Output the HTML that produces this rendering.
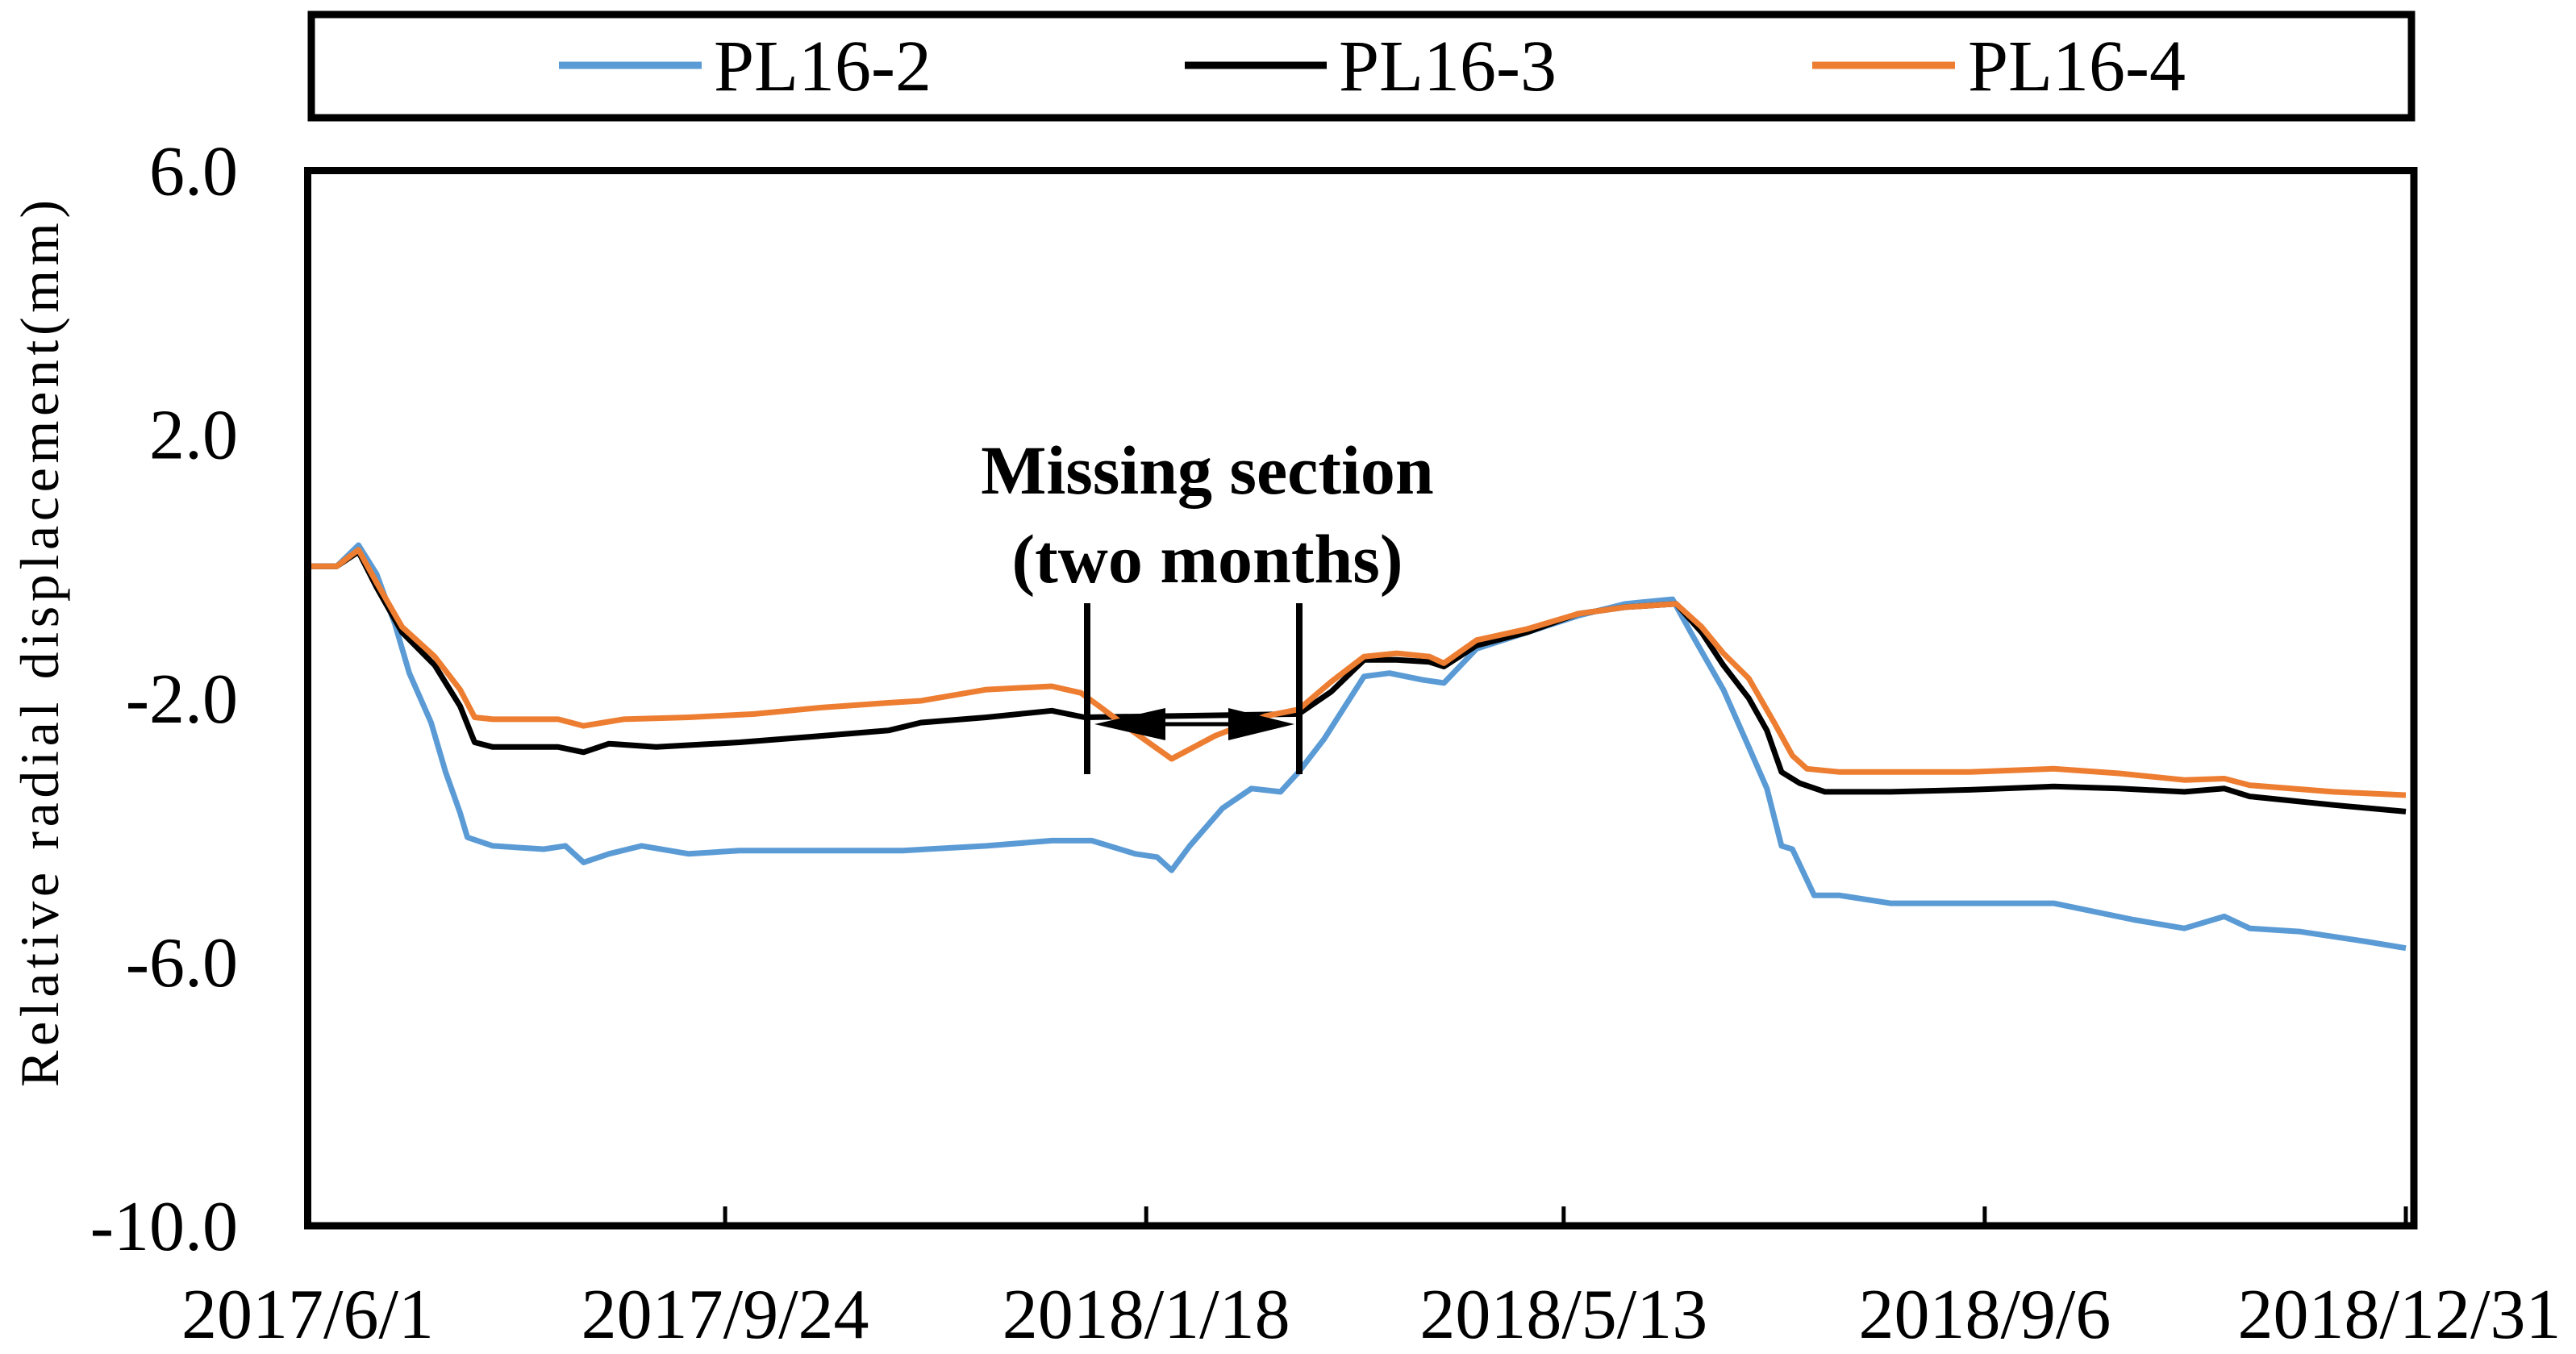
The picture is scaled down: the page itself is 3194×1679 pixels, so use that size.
<!DOCTYPE html>
<html><head><meta charset="utf-8"><style>
html,body{margin:0;padding:0;background:#fff;}
svg{display:block;font-family:"Liberation Serif",serif;}
</style></head><body>
<svg id="chart" width="3194" height="1679" viewBox="0 0 3194 1679" xmlns="http://www.w3.org/2000/svg">
<rect width="3194" height="1679" fill="#fff"/>
<g>
<rect x="386" y="18" width="2604" height="128" fill="none" stroke="#000" stroke-width="9"/>
<g><line x1="693" y1="81" x2="870" y2="81" stroke="#5b9bd5" stroke-width="9"/><text x="885" y="112" font-size="90">PL16-2</text></g>
<g><line x1="1469" y1="81" x2="1645" y2="81" stroke="#000" stroke-width="9"/><text x="1660" y="112" font-size="90">PL16-3</text></g>
<g><line x1="2247" y1="81" x2="2424" y2="81" stroke="#ed7d31" stroke-width="9"/><text x="2440" y="112" font-size="90">PL16-4</text></g>
</g>
<g id="series"></g>
<g id="axes"></g>
<g>
<text x="1497" y="612" font-size="86" font-weight="bold" text-anchor="middle">Missing section</text>
<text x="1497" y="722" font-size="86" font-weight="bold" text-anchor="middle">(two months)</text>
<line x1="1348" y1="748" x2="1348" y2="960" stroke="#000" stroke-width="8"/>
<line x1="1611" y1="748" x2="1611" y2="960" stroke="#000" stroke-width="8"/>
<line x1="1400" y1="898" x2="1560" y2="898" stroke="#000" stroke-width="5"/>
<polygon points="1357,898 1445,878 1445,918" fill="#000"/>
<polygon points="1605,898 1523,878 1523,918" fill="#000"/>
</g>
</svg>
<script>
const tickDays = [0, 115, 231, 346, 462, 578];
const tickLabels = ["2017/6/1", "2017/9/24", "2018/1/18", "2018/5/13", "2018/9/6", "2018/12/31"];
const yTicks = [6, 2, -2, -6, -10];
const yTickLabels = ["6.0", "2.0", "-2.0", "-6.0", "-10.0"];
const seriesNames = ["PL16-2", "PL16-3", "PL16-4"];
const daysBlue = [0,8,14,19,24,28,34,38,42,44,51,65,71,76,83,92,105,119,142,164,187,205,216,228,234,238,243,252,260,268,273,280,291,298,307,313,322,336,350,363,376,381,390,397,402,406,409,415,422,436,458,481,503,517,528,535,549,567,578];
const valsBlue = [0,0,0.32,-0.12,-0.87,-1.62,-2.37,-3.12,-3.74,-4.11,-4.24,-4.29,-4.24,-4.49,-4.36,-4.24,-4.36,-4.31,-4.31,-4.31,-4.24,-4.16,-4.16,-4.36,-4.41,-4.61,-4.24,-3.67,-3.37,-3.42,-3.12,-2.62,-1.67,-1.62,-1.72,-1.77,-1.25,-1.0,-0.75,-0.57,-0.5,-1.0,-1.87,-2.74,-3.37,-4.24,-4.29,-4.99,-4.99,-5.11,-5.11,-5.11,-5.36,-5.49,-5.31,-5.49,-5.54,-5.69,-5.79];
const daysBlack = [0,8,14,19,26,35,42,46,51,69,76,83,96,119,142,160,169,187,205,214,273,282,291,300,309,313,322,336,350,363,377,384,390,397,402,406,411,418,436,458,481,499,517,528,535,558,578];
const valsBlack = [0,0,0.22,-0.32,-1.0,-1.5,-2.12,-2.67,-2.74,-2.74,-2.82,-2.69,-2.74,-2.67,-2.57,-2.49,-2.37,-2.29,-2.19,-2.29,-2.24,-1.9,-1.42,-1.42,-1.45,-1.52,-1.2,-1.0,-0.72,-0.62,-0.57,-1.0,-1.5,-2.0,-2.49,-3.12,-3.29,-3.42,-3.42,-3.39,-3.34,-3.37,-3.42,-3.37,-3.49,-3.62,-3.72];
const daysOrange = [0,8,14,19,26,35,42,46,51,69,76,87,105,123,142,160,169,187,205,213,218,227,238,250,264,273,282,291,300,309,313,322,336,350,363,377,384,390,397,404,409,413,422,436,458,481,499,517,528,535,558,578];
const valsOrange = [0,0,0.25,-0.25,-0.92,-1.37,-1.87,-2.29,-2.32,-2.32,-2.42,-2.32,-2.29,-2.24,-2.14,-2.07,-2.04,-1.87,-1.82,-1.92,-2.12,-2.49,-2.92,-2.57,-2.27,-2.17,-1.75,-1.37,-1.32,-1.37,-1.47,-1.12,-0.95,-0.72,-0.62,-0.57,-0.92,-1.32,-1.7,-2.37,-2.87,-3.07,-3.12,-3.12,-3.12,-3.07,-3.14,-3.24,-3.22,-3.32,-3.42,-3.47];

const NS = "http://www.w3.org/2000/svg";
const X0 = 381.5, XPD = (2983 - 381.5) / 578;
const YTOP = 211.5, YBOT = 1520, YMAX = 6, YMIN = -10;
function xs(d){ return X0 + d * XPD; }
function ys(v){ return YTOP + (YMAX - v) / (YMAX - YMIN) * (YBOT - YTOP); }

const sg = document.getElementById("series");
function drawSeries(days, vals, color, name){
  const p = document.createElementNS(NS, "path");
  let d = "";
  for (let i = 0; i < days.length; i++) d += (i ? "L" : "M") + xs(days[i]).toFixed(1) + "," + ys(vals[i]).toFixed(1);
  p.setAttribute("d", d);
  p.setAttribute("fill", "none");
  p.setAttribute("stroke", color);
  p.setAttribute("stroke-width", "7");
  p.setAttribute("stroke-linejoin", "round");
  
  
  sg.appendChild(p);
}
drawSeries(daysBlue, valsBlue, "#5b9bd5", "series-pl16-2");
drawSeries(daysBlack, valsBlack, "#000", "series-pl16-3");
drawSeries(daysOrange, valsOrange, "#ed7d31", "series-pl16-4");

const ax = document.getElementById("axes");
const frame = document.createElementNS(NS, "rect");
frame.setAttribute("x", X0); frame.setAttribute("y", YTOP);
frame.setAttribute("width", 2993 - X0); frame.setAttribute("height", YBOT - YTOP);
frame.setAttribute("fill", "none"); frame.setAttribute("stroke", "#000"); frame.setAttribute("stroke-width", "9");


ax.appendChild(frame);

for (let i = 0; i < tickDays.length; i++){
  const x = xs(tickDays[i]);
  const t = document.createElementNS(NS, "line");
  t.setAttribute("x1", x); t.setAttribute("x2", x);
  t.setAttribute("y1", YBOT); t.setAttribute("y2", YBOT - 24);
  t.setAttribute("stroke", "#000"); t.setAttribute("stroke-width", "5");
  
  
  ax.appendChild(t);
  const l = document.createElementNS(NS, "text");
  l.setAttribute("x", i === tickDays.length - 1 ? x - 8 : x);
  l.setAttribute("y", 1659);
  l.setAttribute("font-size", "88");
  l.setAttribute("text-anchor", "middle");
  l.textContent = tickLabels[i];
  
  
  ax.appendChild(l);
}
for (let i = 0; i < yTicks.length; i++){
  const y = ys(yTicks[i]);
  const l = document.createElementNS(NS, "text");
  l.setAttribute("x", 295);
  l.setAttribute("y", y + 30);
  l.setAttribute("font-size", "88");
  l.setAttribute("text-anchor", "end");
  l.textContent = yTickLabels[i];
  
  
  ax.appendChild(l);
}
const yt = document.createElementNS(NS, "text");
yt.setAttribute("transform", "translate(72,798) rotate(-90)");
yt.setAttribute("font-size", "68");
yt.setAttribute("text-anchor", "middle");
yt.setAttribute("textLength", "1100");
yt.setAttribute("lengthAdjust", "spacing");
yt.textContent = "Relative  radial  displacement(mm)";


ax.appendChild(yt);
</script>
</body></html>
